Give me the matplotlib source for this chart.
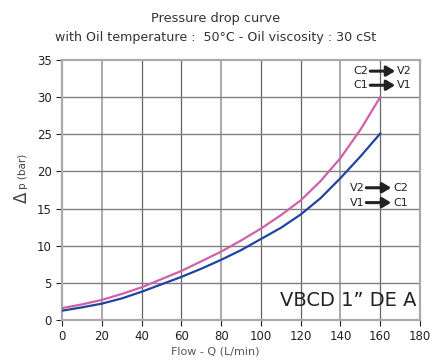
import matplotlib
matplotlib.use("Agg")
import matplotlib.pyplot as plt

flow = [0, 10, 20, 30, 40, 50, 60, 70, 80, 90, 100, 110, 120, 130, 140, 150, 160]
dp_c2v2 = [1.6, 2.1, 2.7, 3.5, 4.4, 5.5, 6.6, 7.9, 9.2, 10.7, 12.3, 14.1, 16.1, 18.7, 21.8, 25.6, 30.0]
dp_v2c2 = [1.25, 1.7, 2.2, 2.9, 3.8, 4.8, 5.8, 6.9, 8.1, 9.4, 10.9, 12.4, 14.2, 16.4, 19.1, 22.0, 25.1]
xticks = [0, 20, 40, 60, 80, 100, 120, 140, 160, 180]
yticks = [0, 5, 10, 15, 20, 25, 30, 35]

fig = plt.figure(figsize=(4.31, 3.64), dpi=100)
ax = fig.add_axes([0.1439, 0.1209, 0.8306, 0.7143])
ax.set_xlim(0, 180)
ax.set_ylim(0, 35)
ax.set_xticks(xticks)
ax.set_yticks(yticks)

light_x = {20, 80, 140}
for x in xticks[1:-1]:
    if x in light_x:
        ax.axvline(x, color="#aaaaaa", linewidth=1.4, zorder=1)
    else:
        ax.axvline(x, color="#666666", linewidth=0.9, zorder=1)
for y in yticks[1:-1]:
    ax.axhline(y, color="#808080", linewidth=1.0, zorder=1)

for s in ax.spines.values():
    s.set_color("#aaaaaa")
    s.set_linewidth(1.6)
ax.tick_params(axis="both", labelsize=8.5, colors="#222222", length=4, width=0.8)
ax.tick_params(axis="x", pad=3)

ax.plot(flow, dp_c2v2, color="#d060a8", linewidth=1.6, zorder=3)
ax.plot(flow, dp_v2c2, color="#2244a0", linewidth=1.6, zorder=3)

fig.text(0.5, 0.95, "Pressure drop curve", ha="center", va="center", fontsize=9.3, color="#333333")
fig.text(0.5, 0.897, "with Oil temperature :  50°C - Oil viscosity : 30 cSt", ha="center", va="center", fontsize=9.1, color="#333333")

fig.text(0.5, 0.033, "Flow - Q (L/min)", ha="center", va="center", fontsize=8, color="#555555")
fig.text(0.05, 0.459, "Δ", rotation=90, ha="center", va="center", fontsize=12, color="#444444")
fig.text(0.053, 0.53, "p (bar)", rotation=90, ha="center", va="center", fontsize=7.5, color="#444444")

ax.text(0.991, 0.074, "VBCD 1\u201d DE A", transform=ax.transAxes, ha="right", va="center", fontsize=14, color="#222222")

def flow_label(ax, left, right, y, x0, x1):
    ax.text(x0 - 1, y, left, ha="right", va="center", fontsize=8, color="#222222")
    ax.annotate("", xy=(x1, y), xytext=(x0, y),
                arrowprops=dict(arrowstyle="-|>,head_length=0.5,head_width=0.3", color="#222222", lw=2.2, shrinkA=0, shrinkB=0))
    ax.text(x1 + 1, y, right, ha="left", va="center", fontsize=8, color="#222222")

flow_label(ax, "C2", "V2", 33.5, 155, 167.5)
flow_label(ax, "C1", "V1", 31.6, 155, 167.5)
flow_label(ax, "V2", "C2", 17.8, 153, 165.5)
flow_label(ax, "V1", "C1", 15.8, 153, 165.5)

fig.savefig("out.png", dpi=100)
